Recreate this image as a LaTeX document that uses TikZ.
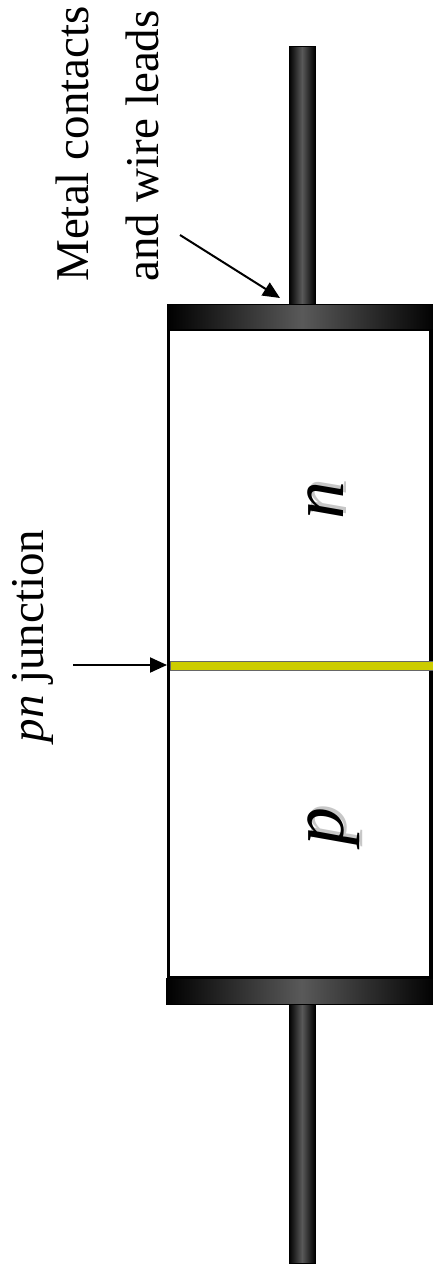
\documentclass[tikz,border=0pt]{standalone}
\usepackage{fontspec}
\setmainfont{Liberation Serif}
\usetikzlibrary{arrows.meta}
\definecolor{junctionyellow}{RGB}{204,204,0}

\begin{document}
\begin{tikzpicture}[x=1pt,y=-1pt]
    \tikzstyle{metal}=[draw=black,line width=0.8pt,left color=black,
        right color=black,middle color=black!65]
    \tikzstyle{label}=[rotate=90,anchor=base,inner sep=0pt,
        font=\fontsize{47}{56}\selectfont]
    \tikzstyle{region}=[rotate=90,anchor=base,inner sep=0pt,
        font=\fontsize{76}{80}\selectfont\itshape]
    \tikzstyle{pointer}=[line width=2pt,-{Triangle[length=17pt,width=15pt]}]
    \useasboundingbox (0,0) rectangle (432,1274);
    % Leads
    \draw[metal] (289,46) rectangle (315,304);
    \draw[metal] (289,1004) rectangle (315,1263);
    % Body
    \draw[line width=3.5pt] (168.5,329) rectangle (431,978);
    % Junction
    \draw[draw=black!60,fill=junctionyellow,line width=0.8pt] (170,661) rectangle (433,670);
    % Contacts
    \draw[metal] (167,304) rectangle (437,329);
    \draw[metal] (166,978) rectangle (437,1004);
    % Regions
    \node[region,text=black!22] (nshadow) at (346,497) {n};
    \node[region] (nregion) at (343,500) {n};
    \node[region,text=black!22] (pshadow) at (346,823) {p};
    \node[region] (pregion) at (343,826) {p};
    % Labels
    \node[label] (metal) at (88,144) {Metal contacts};
    \node[label] (leads) at (158,146) {and wire leads};
    \node[label] (junction) at (43,636) {\textit{pn} junction};
    % Pointers
    \coordinate (wiretail) at (180,235);
    \coordinate (wiretip) at (280,298);
    \coordinate (jtail) at (73,665);
    \coordinate (jtip) at (167,665);
    \draw[pointer] (wiretail) -- (wiretip);
    \draw[pointer] (jtail) -- (jtip);
\end{tikzpicture}
\end{document}
